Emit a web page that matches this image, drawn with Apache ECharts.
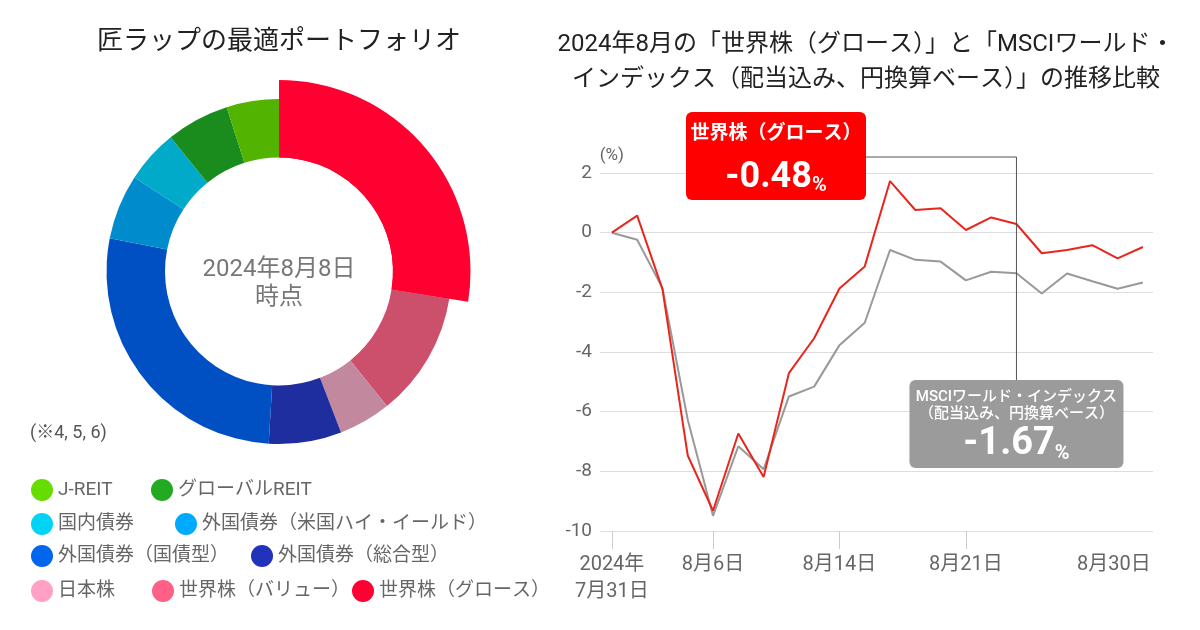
<!DOCTYPE html>
<html><head><meta charset="utf-8">
<script src="https://cdn.jsdelivr.net/npm/echarts@6/dist/echarts.min.js"></script>
<style>html,body{margin:0;padding:0;background:#fff}#c{width:1200px;height:630px}</style>
</head><body><div id="c"></div>
<script>
const FONT = "Roboto, 'Noto Sans CJK JP', sans-serif";

// ---- Donut data (clockwise from 12 o'clock) ----
const assetNames = ['世界株（グロース）','世界株（バリュー）','日本株','外国債券（総合型）','外国債券（国債型）','外国債券（米国ハイ・イールド）','国内債券','グローバルREIT','J-REIT'];
const assetWeights = [27.5, 11.7, 4.9, 6.8, 27.1, 6.1, 5.0, 5.9, 4.9];
const sliceColors = ['#ff0030','#cc4f6c','#c2889e','#1f2e9e','#0050c4','#008ccc','#00aac8','#1a8c1e','#52b400'];
const legendColors = ['#ff0033','#ff6085','#ffa0c4','#2233bb','#0066ee','#00aaff','#00d4f5','#22aa22','#66dd00'];
// legend layout rows (names in reading order)
const legendRows = [
  ['J-REIT','グローバルREIT'],
  ['国内債券','外国債券（米国ハイ・イールド）'],
  ['外国債券（国債型）','外国債券（総合型）'],
  ['日本株','世界株（バリュー）','世界株（グロース）']
];
const legendLefts = [[31,151],[31,175],[31,251],[31,152,352]];
const legendTops = [479,513,545,580];

// ---- Line chart data (trading days) ----
const dates = ['7/31','8/1','8/2','8/5','8/6','8/7','8/8','8/9','8/13','8/14','8/15','8/16','8/19','8/20','8/21','8/22','8/23','8/26','8/27','8/28','8/29','8/30'];
const growth = [0, 0.57, -1.89, -7.47, -9.32, -6.73, -8.19, -4.71, -3.54, -1.87, -1.13, 1.73, 0.76, 0.82, 0.09, 0.51, 0.29, -0.69, -0.58, -0.42, -0.86, -0.48];
const msci = [0, -0.24, -1.86, -6.27, -9.49, -7.16, -7.93, -5.49, -5.16, -3.77, -3.02, -0.58, -0.91, -0.97, -1.60, -1.31, -1.36, -2.04, -1.37, -1.63, -1.88, -1.67];
const xTickIdx = [0, 4, 9, 14];
const xLabelIdx = [0, 4, 9, 14, 21];
const xLabels = ['2024年\n7月31日', '8月6日', '8月14日', '8月21日', '8月30日'];
const growthLabel = ['世界株（グロース）', '-0.48'];
const msciLabel = ['MSCIワールド・インデックス', '（配当込み、円換算ベース）', '-1.67'];
const calloutIdx = 16;

const chart = echarts.init(document.getElementById('c'), null, {renderer: 'canvas'});

const pieData = assetNames.map((n, i) => ({name: n, value: assetWeights[i], itemStyle: {color: sliceColors[i]}}));
const pieBig = assetNames.map((n, i) => ({name: n, value: assetWeights[i], itemStyle: {color: i === 0 ? sliceColors[0] : 'rgba(0,0,0,0)'}}));

const legends = [];
legendRows.forEach((row, r) => {
  row.forEach((name, k) => {
    const idx = assetNames.indexOf(name);
    legends.push({
      left: legendLefts[r][k], top: legendTops[r], orient: 'horizontal', padding: 0,
      icon: 'circle', itemWidth: 22, itemHeight: 22, selectedMode: false,
      textStyle: {fontSize: 19, color: '#666', fontFamily: FONT},
      data: [{name: name, itemStyle: {color: legendColors[idx]}}]
    });
  });
});

const option = {
  backgroundColor: '#fff',
  animation: false,
  textStyle: {fontFamily: FONT},
  legend: legends,
  grid: {left: 600, right: 47, top: 173, bottom: 99, containLabel: false, outerBoundsMode: 'none'},
  xAxis: {
    type: 'value', min: -0.47, max: 21.4,
    splitLine: {show: false},
    axisLine: {show: false, onZero: false},
    axisTick: {show: true, customValues: xTickIdx, length: 18, lineStyle: {color: '#ccc'}},
    axisLabel: {
      customValues: xLabelIdx, margin: 20, fontSize: 20, lineHeight: 27, color: '#666', fontFamily: FONT,
      formatter: v => {
        const i = xLabelIdx.indexOf(Math.round(v));
        if (i < 0) return '';
        if (i === xLabelIdx.length - 1) return '{e|' + xLabels[i] + '}';
        return xLabels[i];
      },
      rich: {e: {fontSize: 20, color: '#666', padding: [0, 58, 0, 0], fontFamily: FONT}}
    }
  },
  yAxis: {
    type: 'value', min: -10, max: 2, interval: 2,
    name: '(%)', nameLocation: 'end', nameGap: 9,
    nameTextStyle: {fontSize: 17, color: '#666', fontFamily: FONT},
    axisLine: {show: false}, axisTick: {show: false},
    axisLabel: {fontSize: 19, color: '#666', margin: 8, fontFamily: FONT},
    splitLine: {lineStyle: {color: '#ddd', width: 1}}
  },
  series: [
    {type: 'pie', center: [279, 271.5], radius: [114, 172.5], startAngle: 90, clockwise: true,
     label: {show: false}, labelLine: {show: false}, silent: true,
     itemStyle: {borderWidth: 0}, data: pieData},
    {type: 'pie', center: [279, 271.5], radius: [114, 191.5], startAngle: 90, clockwise: true,
     label: {show: false}, labelLine: {show: false}, silent: true,
     itemStyle: {borderWidth: 0}, data: pieBig},
    {type: 'line', name: 'MSCI', data: msci.map((v, i) => [i, v]), symbol: 'none',
     lineStyle: {color: '#999', width: 2}, z: 3},
    {type: 'line', name: 'growth', data: growth.map((v, i) => [i, v]), symbol: 'none',
     lineStyle: {color: '#e8261e', width: 2}, z: 4}
  ]
};
chart.setOption(option);

// annotations
const lx = chart.convertToPixel({xAxisIndex: 0}, calloutIdx);
const redBox = {x: 686, y: 112, w: 180, h: 88};
const grayBox = {x: lx - 107, y: 380, w: 214, h: 88};

chart.setOption({
  graphic: [
    {type: 'text', x: 279, y: 42, style: {text: '匠ラップの最適ポートフォリオ', font: '400 26px ' + FONT, fill: '#222', align: 'center', verticalAlign: 'middle'}},
    {type: 'text', x: 866, y: 45, style: {text: '2024年8月の「世界株（グロース）」と「MSCIワールド・', font: '400 24px ' + FONT, fill: '#222', align: 'center', verticalAlign: 'middle'}},
    {type: 'text', x: 866, y: 80, style: {text: 'インデックス（配当込み、円換算ベース）」の推移比較', font: '400 24px ' + FONT, fill: '#222', align: 'center', verticalAlign: 'middle'}},
    {type: 'text', x: 279, y: 270, style: {text: '2024年8月8日', font: '400 24px ' + FONT, fill: '#777', align: 'center', verticalAlign: 'middle'}},
    {type: 'text', x: 279, y: 298, style: {text: '時点', font: '400 24px ' + FONT, fill: '#777', align: 'center', verticalAlign: 'middle'}},
    {type: 'text', x: 30, y: 433, style: {text: '(※4, 5, 6)', font: '400 18px ' + FONT, fill: '#555', align: 'left', verticalAlign: 'middle'}},
    // leader line
    {type: 'polyline', shape: {points: [[redBox.x + redBox.w, 157], [lx, 157], [lx, grayBox.y]]}, style: {stroke: '#555', lineWidth: 1, fill: null}, z: 10},
    // red callout
    {type: 'rect', shape: {x: redBox.x, y: redBox.y, width: redBox.w, height: redBox.h, r: 6}, style: {fill: '#ff0000'}, z: 11},
    {type: 'text', x: redBox.x + redBox.w / 2, y: 134, z: 12, style: {text: growthLabel[0], font: '700 19px ' + FONT, fill: '#fff', align: 'center', verticalAlign: 'middle'}},
    {type: 'text', x: redBox.x + redBox.w / 2, y: 176, z: 12, style: {text: '{a|' + growthLabel[1] + '}{b|%}', align: 'center', verticalAlign: 'middle',
      rich: {a: {font: '700 36px ' + FONT, fill: '#fff', lineHeight: 40, verticalAlign: 'bottom'}, b: {font: '700 20px ' + FONT, fill: '#fff', lineHeight: 32, verticalAlign: 'bottom'}}}},
    // gray callout
    {type: 'rect', shape: {x: grayBox.x, y: grayBox.y, width: grayBox.w, height: grayBox.h, r: 6}, style: {fill: '#9b9b9b'}, z: 11},
    {type: 'text', x: lx, y: 397, z: 12, style: {text: msciLabel[0], font: '500 15px ' + FONT, fill: '#fff', align: 'center', verticalAlign: 'middle'}},
    {type: 'text', x: lx, y: 414, z: 12, style: {text: msciLabel[1], font: '500 15px ' + FONT, fill: '#fff', align: 'center', verticalAlign: 'middle'}},
    {type: 'text', x: lx, y: 444, z: 12, style: {text: '{a|' + msciLabel[2] + '}{b|%}', align: 'center', verticalAlign: 'middle',
      rich: {a: {font: '700 38px ' + FONT, fill: '#fff', lineHeight: 40, verticalAlign: 'bottom'}, b: {font: '700 20px ' + FONT, fill: '#fff', lineHeight: 32, verticalAlign: 'bottom'}}}}
  ]
});
</script>
</body></html>
